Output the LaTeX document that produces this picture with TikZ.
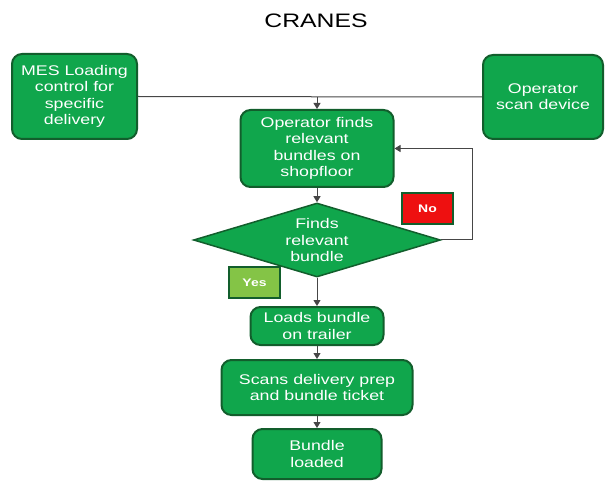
\documentclass[tikz,border=0pt]{standalone}
\usepackage{fontspec}
\setmainfont{Liberation Sans}[FakeStretch=1.27]
\usetikzlibrary{shapes.geometric,arrows.meta}
\definecolor{boxgreen}{RGB}{16,166,76}
\definecolor{darkgreen}{RGB}{18,94,44}
\definecolor{nored}{RGB}{238,16,16}
\definecolor{yesgreen}{RGB}{132,196,70}
\definecolor{linegray}{RGB}{70,70,70}

\begin{document}
\begin{tikzpicture}[x=1pt, y=-1pt,
    stepbox/.style={draw=darkgreen, line width=2pt, fill=boxgreen, rounded corners=10pt,
        text=white, align=center, inner sep=0pt, font=\fontsize{14}{16.3}\selectfont},
    decision/.style={diamond, draw=darkgreen, line width=1.5pt, fill=boxgreen, aspect=3.3,
        text=white, align=center, inner sep=0pt, font=\fontsize{14}{16.3}\selectfont,
        minimum width=247pt, minimum height=74pt},
    tag/.style={draw=darkgreen, line width=2pt, text=white, inner sep=0pt,
        minimum width=51pt, minimum height=31pt, font=\bfseries\fontsize{11}{13}\selectfont},
    flow/.style={draw=linegray, line width=1pt, -{Triangle[length=6pt,width=7pt]}}]
    \useasboundingbox (0,0) rectangle (605,481);

    \node (title) at (316,21) {\fontsize{19.5}{22}\selectfont CRANES};

    % inputs at the top
    \node[stepbox, minimum width=125pt, minimum height=85pt] (mes) at (74.5,96.5)
        {MES Loading\\control for\\specific\\delivery};
    \node[stepbox, minimum width=120pt, minimum height=84pt] (scan) at (543,97)
        {Operator\\scan device};

    % main flow
    \node[stepbox, minimum width=153pt, minimum height=77pt] (find) at (317,148.5)
        {Operator finds\\relevant\\bundles on\\shopfloor};
    \node[decision] (check) at (317,240) {Finds\\relevant\\bundle};
    \node[stepbox, minimum width=133pt, minimum height=38pt] (load) at (317,326)
        {Loads bundle\\on trailer};
    \node[stepbox, minimum width=191pt, minimum height=55pt] (ticket) at (317,387.5)
        {Scans delivery prep\\and bundle ticket};
    \node[stepbox, minimum width=129pt, minimum height=50pt] (done) at (317,454)
        {Bundle\\loaded};

    % answers
    \node[tag, fill=nored] (no) at (427.5,209) {No};
    \node[tag, fill=yesgreen] (yes) at (254.5,282.5) {Yes};

    \coordinate (join) at (317,97);
    \coordinate (back) at (472,240);
    \draw[draw=linegray, line width=1pt] (mes.east) -- (scan.west);
    \draw[flow] (join) -- (find.north);
    \draw[flow] (find.south) -- (check.north);
    \draw[flow] (check.east) -- (back) |- (find.east);
    \draw[flow] (check.south) -- (load.north);
    \draw[flow] (load.south) -- (ticket.north);
    \draw[flow] (ticket.south) -- (done.north);
\end{tikzpicture}
\end{document}
